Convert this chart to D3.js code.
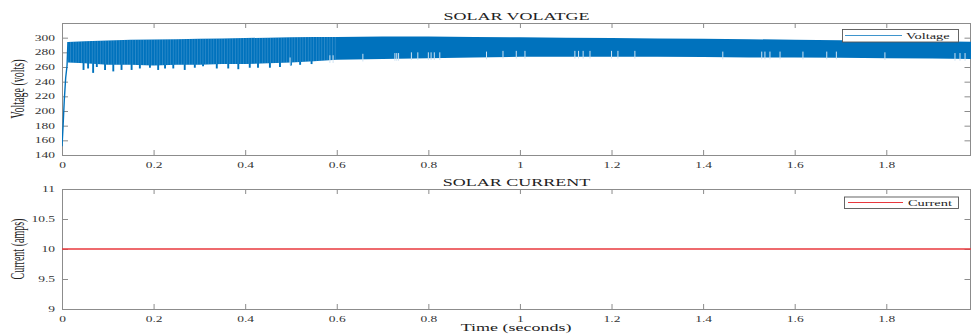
<!DOCTYPE html>
<html>
<head>
<meta charset="utf-8">
<script src="https://cdn.jsdelivr.net/npm/d3@7"></script>
<style>
  html, body { margin: 0; padding: 0; background: #fff; }
  svg { display: block; font-family: "Liberation Serif", "DejaVu Serif", serif; }
</style>
</head>
<body>
<div id="chart"></div>
<script>
// x axis (time, s)
const xTicks = [0, 0.2, 0.4, 0.6, 0.8, 1, 1.2, 1.4, 1.6, 1.8];
const xLabels = ['0', '0.2', '0.4', '0.6', '0.8', '1', '1.2', '1.4', '1.6', '1.8'];

// voltage panel
const vTicks = [140, 160, 180, 200, 220, 240, 260, 280, 300];
// start-up transient
const startT = [0, 0.002, 0.005, 0.008, 0.011, 0.013];
const startV = [152, 175, 215, 245, 262, 294];
// ripple band envelope
const bandT = [0.013, 0.05, 0.1, 0.15, 0.2, 0.25, 0.3, 0.35, 0.4, 0.45, 0.5, 0.55, 0.6, 0.7, 0.8, 0.9, 1.0, 1.1, 1.2, 1.3, 1.4, 1.5, 1.6, 1.7, 1.8, 1.9, 1.985];
const bandHi = [294, 295, 296, 297, 297.5, 298, 298.5, 299, 299.5, 300, 300.5, 301, 301, 301.5, 301.5, 301, 300.5, 300, 299.5, 299, 298.5, 298, 297, 296.5, 296, 295, 294.5];
const bandLo = [266, 265, 263, 263, 262, 263, 263, 264, 264, 265, 266, 268, 270, 271, 272, 273, 274, 274, 274, 274, 273.5, 273, 273, 272.5, 272, 271.5, 271];
// downward dips below the band
const dipT = [0.047, 0.057, 0.068, 0.076, 0.094, 0.112, 0.13, 0.152, 0.17, 0.192, 0.21, 0.225, 0.243, 0.268, 0.29, 0.308, 0.338, 0.363, 0.385, 0.41, 0.428, 0.454, 0.476, 0.5, 0.52, 0.545];
const dipV = [256, 258, 252, 260, 256, 254, 256, 256, 258, 259, 256, 258, 258, 256, 259, 261, 258, 258, 257, 259, 259, 259, 260, 262, 263, 264];
// light spikes inside the band
const spikeT = [0.498, 0.585, 0.592, 0.657, 0.727, 0.731, 0.735, 0.763, 0.777, 0.8, 0.806, 0.813, 0.825, 0.927, 0.963, 0.992, 1.011, 1.12, 1.128, 1.138, 1.153, 1.2, 1.214, 1.251, 1.443, 1.528, 1.535, 1.546, 1.568, 1.618, 1.67, 1.691, 1.797, 1.95, 1.961, 1.972];
const spikeV = [264, 267, 267, 269, 270, 270, 270, 271, 271, 271, 271, 271, 271, 272, 273, 273, 273, 273, 273, 273, 273, 273, 273, 273, 272, 272, 272, 272, 272, 272, 272, 272, 271, 270, 270, 270];

// current panel
const iTicks = [9, 9.5, 10, 10.5, 11];
const iLabels = ['9', '9.5', '10', '10.5', '11'];
const curT = [0, 1.985];
const curV = [10, 10];

const W = 971, H = 336;
const SX = 1.8; // horizontal stretch of all text
const axisCol = '#8c8c8c', txtCol = '#333';
const blue = '#0072bd', red = '#e8383d';

const svg = d3.select('#chart').append('svg').attr('width', W).attr('height', H);

const x = d3.scaleLinear().domain([0, 1.985]).range([62, 971]);
const yV = d3.scaleLinear().domain([140, 320]).range([155, 23]);
const yI = d3.scaleLinear().domain([9, 11]).range([309, 189]);

function stretchText(g, px, py, str, size, anchor, rot) {
  return g.append('text')
    .attr('transform', `translate(${px},${py}) scale(${SX},1)` + (rot ? ` rotate(${rot})` : ''))
    .attr('text-anchor', anchor)
    .attr('font-size', size)
    .attr('fill', txtCol)
    .text(str);
}

function panel(ys, yTicks, yLabels, title, ylabel, top, bottom) {
  const g = svg.append('g');
  const xl = 62, xr = 971;

  // bottom axis with inward ticks
  const ax = g.append('g').attr('transform', `translate(0,${bottom})`)
    .call(d3.axisBottom(x).tickValues(xTicks).tickSizeInner(-5).tickSizeOuter(0).tickPadding(8)
      .tickFormat((d, i) => xLabels[i]));
  ax.selectAll('text').attr('transform', `scale(${SX},1)`).attr('font-size', 7.5)
    .attr('font-family', 'Liberation Serif').attr('fill', txtCol);

  // top axis ticks
  g.append('g').attr('transform', `translate(0,${top})`)
    .call(d3.axisTop(x).tickValues(xTicks).tickSizeInner(-5).tickSizeOuter(0).tickFormat(''));

  // left axis
  const ay = g.append('g').attr('transform', `translate(${xl},0)`)
    .call(d3.axisLeft(ys).tickValues(yTicks).tickSizeInner(-6).tickSizeOuter(0).tickPadding(7)
      .tickFormat((d, i) => yLabels[i]));
  ay.selectAll('text').attr('x', 0).attr('transform', `translate(-7,0) scale(${SX},1)`)
    .attr('font-size', 7.5).attr('font-family', 'Liberation Serif').attr('fill', txtCol);

  // right axis ticks
  g.append('g').attr('transform', `translate(${xr - 0.5},0)`)
    .call(d3.axisRight(ys).tickValues(yTicks).tickSizeInner(-6).tickSizeOuter(0).tickFormat(''));

  g.selectAll('.domain').remove();
  g.selectAll('.tick line').attr('stroke', axisCol);

  // box
  g.append('rect').attr('x', xl + 0.5).attr('y', top + 0.5)
    .attr('width', xr - xl - 1).attr('height', bottom - top)
    .attr('fill', 'none').attr('stroke', axisCol).attr('stroke-width', 1);

  stretchText(g, (xl + xr) / 2, top - 3, title, 10, 'middle').attr('fill', '#222');
  stretchText(g, 24, (top + bottom) / 2, ylabel, 10, 'middle', -90).attr('fill', '#222');
  return g;
}

// ---------- voltage ----------
const gV = panel(yV, vTicks, vTicks.map(String), 'SOLAR VOLATGE', 'Voltage (volts)', 23, 155);

const clip = svg.append('clipPath').attr('id', 'clipV');
clip.append('rect').attr('x', 62).attr('y', 23).attr('width', 909).attr('height', 132);

const plotV = svg.append('g').attr('clip-path', 'url(#clipV)');

const band = bandT.map((t, i) => ({ t, hi: bandHi[i], lo: bandLo[i] }));
const area = d3.area().x(d => x(d.t)).y0(d => yV(d.lo)).y1(d => yV(d.hi));

// dips under the band
plotV.selectAll('line.dip').data(dipT).enter().append('line')
  .attr('class', 'dip')
  .attr('x1', d => x(d)).attr('x2', d => x(d))
  .attr('y1', (d, i) => yV(dipV[i])).attr('y2', yV(285))
  .attr('stroke', blue).attr('stroke-width', 1.9);

plotV.append('path').attr('d', area(band)).attr('fill', blue);

// faint striped texture of the early ripple
const defs = svg.append('defs');
const pat = defs.append('pattern').attr('id', 'stripes').attr('patternUnits', 'userSpaceOnUse')
  .attr('width', 2.7).attr('height', 10);
pat.append('rect').attr('width', 0.7).attr('height', 10).attr('fill', '#9cc6e6').attr('opacity', 0.35);
plotV.append('path').attr('d', area(band.filter(d => d.t <= 0.65)))
  .attr('fill', 'url(#stripes)');

// start-up transient
plotV.append('path')
  .datum(startT.map((t, i) => [t, startV[i]]))
  .attr('d', d3.line().x(d => x(d[0])).y(d => yV(d[1])))
  .attr('fill', 'none').attr('stroke', blue).attr('stroke-width', 1.4);

// light spikes
plotV.selectAll('line.spike').data(spikeT).enter().append('line')
  .attr('class', 'spike')
  .attr('x1', d => x(d)).attr('x2', d => x(d))
  .attr('y1', (d, i) => yV(spikeV[i] - 1.5)).attr('y2', (d, i) => yV(spikeV[i] + 9))
  .attr('stroke', '#cfe3f3').attr('stroke-width', 1);

// legend
const lgV = svg.append('g');
lgV.append('rect').attr('x', 842.5).attr('y', 29.5).attr('width', 116).attr('height', 12.5)
  .attr('fill', '#fff').attr('stroke', '#555').attr('stroke-width', 0.9);
lgV.append('line').attr('x1', 845).attr('x2', 902).attr('y1', 35.5).attr('y2', 35.5)
  .attr('stroke', blue).attr('stroke-width', 1).attr('opacity', 0.75);
stretchText(lgV, 906, 38.5, 'Voltage', 8, 'start').attr('fill', '#222');

// ---------- current ----------
const gI = panel(yI, iTicks, iLabels, 'SOLAR CURRENT', 'Current (amps)', 189, 309);

svg.append('path')
  .datum(curT.map((t, i) => [t, curV[i]]))
  .attr('d', d3.line().x(d => x(d[0])).y(d => yI(d[1])))
  .attr('fill', 'none').attr('stroke', red).attr('stroke-width', 1.6);

const lgI = svg.append('g');
lgI.append('rect').attr('x', 844.5).attr('y', 197).attr('width', 114).attr('height', 11.5)
  .attr('fill', '#fff').attr('stroke', '#555').attr('stroke-width', 0.9);
lgI.append('line').attr('x1', 848).attr('x2', 903).attr('y1', 202.5).attr('y2', 202.5)
  .attr('stroke', red).attr('stroke-width', 1.2);
stretchText(lgI, 908, 205.5, 'Current', 8, 'start').attr('fill', '#222');

stretchText(svg, 516, 331, 'Time (seconds)', 10, 'middle').attr('fill', '#222');
</script>
</body>
</html>
